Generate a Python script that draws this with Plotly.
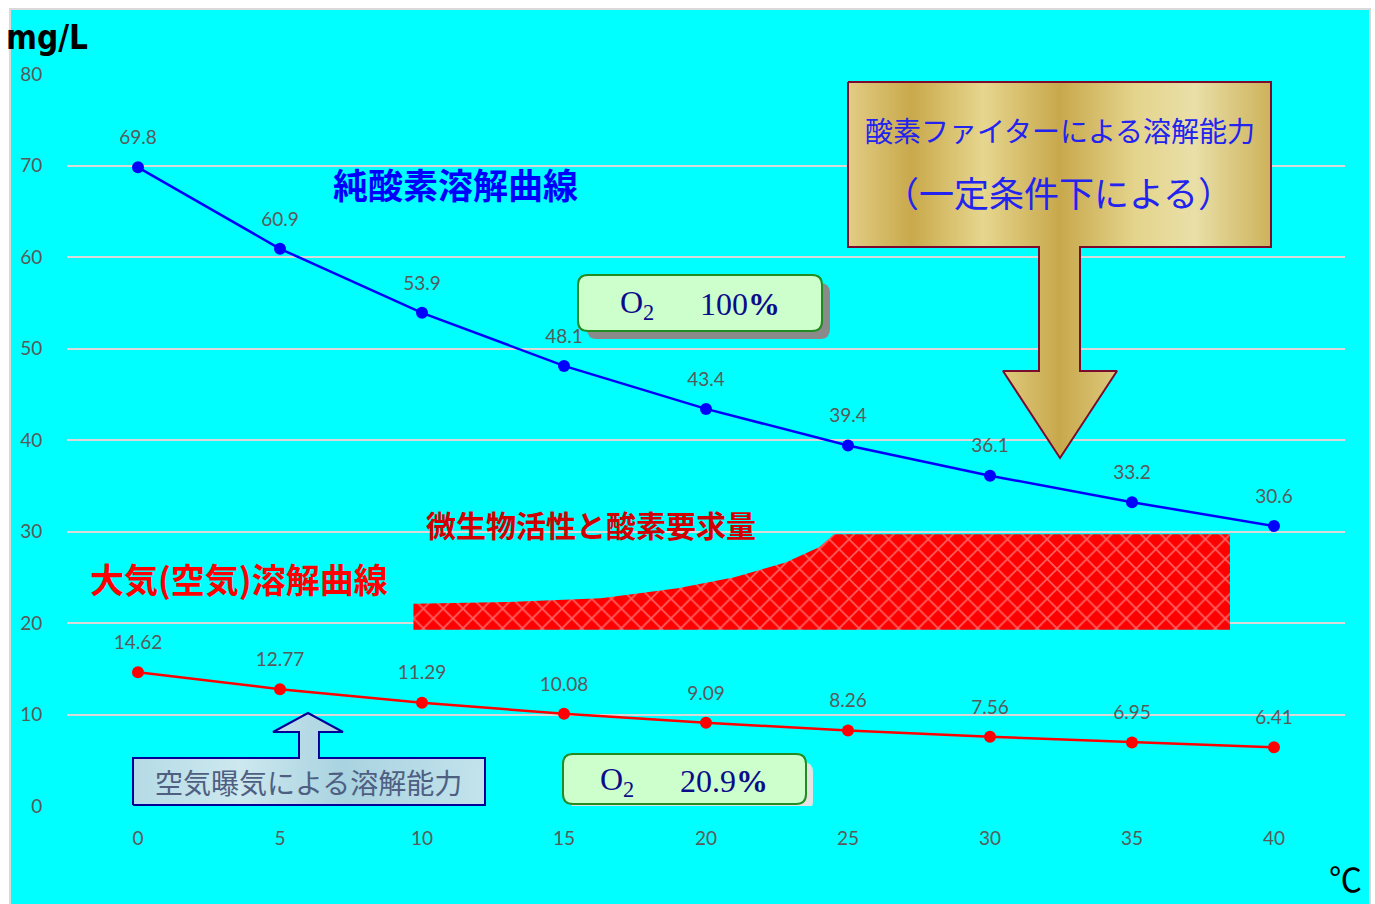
import plotly.graph_objects as go

# ---- data ----
temps = [0, 5, 10, 15, 20, 25, 30, 35, 40]
pure_o2 = [69.8, 60.9, 53.9, 48.1, 43.4, 39.4, 36.1, 33.2, 30.6]
air = [14.62, 12.77, 11.29, 10.08, 9.09, 8.26, 7.56, 6.95, 6.41]
pure_labels = ["69.8", "60.9", "53.9", "48.1", "43.4", "39.4", "36.1", "33.2", "30.6"]
air_labels = ["14.62", "12.77", "11.29", "10.08", "9.09", "8.26", "7.56", "6.95", "6.41"]
x_ticks = [0, 5, 10, 15, 20, 25, 30, 35, 40]
y_ticks = [0, 10, 20, 30, 40, 50, 60, 70, 80]

# microbial activity band (decorative, estimated)
band_x_top = [9.7, 13.0, 16.3, 19.0, 21.0, 22.8, 24.0, 24.5, 38.45]
band_y_top = [22.1, 22.3, 22.7, 23.8, 25.0, 26.6, 28.3, 29.7, 29.7]
band_y_bottom = 19.25

# ---- pixel helpers (decoration placement) ----
def X(px):
    return (px - 138) / 28.4

def Y(py):
    return (806 - py) / 9.15

def PX(px):
    return (px - 67) / 1278

def PY(py):
    return (806 - py) / 732

GREY = "#595959"
fig = go.Figure()

# hatched band
bx = band_x_top + [band_x_top[-1], band_x_top[0], band_x_top[0]]
by = band_y_top + [band_y_bottom, band_y_bottom, band_y_top[0]]
fig.add_trace(go.Scatter(
    x=bx, y=by, mode="lines", fill="toself", line=dict(width=0, color="red"),
    fillpattern=dict(shape="x", bgcolor="#ff0000", fgcolor="#ffc4c4", size=14, solidity=0.22),
    hoverinfo="skip", showlegend=False))

# gold box + arrow
gold_px = [(848, 82), (1271, 82), (1271, 247), (1080, 247), (1080, 371), (1117, 371),
           (1060, 458), (1003, 371), (1039, 371), (1039, 247), (848, 247), (848, 82)]
fig.add_trace(go.Scatter(
    x=[X(p[0]) for p in gold_px], y=[Y(p[1]) for p in gold_px], mode="lines",
    fill="toself", line=dict(color="#7a0c2e", width=2),
    fillgradient=dict(type="horizontal", start=X(848), stop=X(1271),
                      colorscale=[[0, "#e2cd85"], [0.15, "#c9a94b"], [0.32, "#e6d68e"],
                                  [0.5, "#c8a84c"], [0.68, "#e4d48c"], [0.82, "#e9dfa8"],
                                  [1, "#cdb25a"]]),
    hoverinfo="skip", showlegend=False))

# light blue box + up arrow
blue_px = [(133, 805), (485, 805), (485, 758), (319, 758), (319, 732), (343, 732),
           (308, 713), (273, 732), (299, 732), (299, 758), (133, 758), (133, 805)]
fig.add_trace(go.Scatter(
    x=[X(p[0]) for p in blue_px], y=[Y(p[1]) for p in blue_px], mode="lines",
    fill="toself", line=dict(color="#000099", width=2),
    fillgradient=dict(type="horizontal", start=X(133), stop=X(485),
                      colorscale=[[0, "#b5dbe6"], [0.3, "#cde8ef"], [0.6, "#a9d3e0"],
                                  [1, "#c3e3ec"]]),
    hoverinfo="skip", showlegend=False))

# data lines
fig.add_trace(go.Scatter(x=temps, y=pure_o2, mode="lines+markers",
                         line=dict(color="#0000ff", width=2.5),
                         marker=dict(size=12, color="#0000ff"), showlegend=False))
fig.add_trace(go.Scatter(x=temps, y=air, mode="lines+markers",
                         line=dict(color="#ff0000", width=2.5),
                         marker=dict(size=12, color="#ff0000"), showlegend=False))
# value labels
for vals, labs in ((pure_o2, pure_labels), (air, air_labels)):
    fig.add_trace(go.Scatter(x=temps, y=vals, mode="text+markers", text=labs,
                             textposition="top center",
                             marker=dict(size=28, color="rgba(0,0,0,0)"),
                             textfont=dict(family="Lato, Open Sans, sans-serif", size=19, color=GREY),
                             hoverinfo="skip", showlegend=False))

shapes = []
# outer cyan background with grey border
shapes.append(dict(type="rect", xref="paper", yref="paper", x0=PX(10), x1=PX(1370),
                   y0=PY(905), y1=PY(9), fillcolor="#00ffff",
                   line=dict(color="#d9d9d9", width=2), layer="below"))

def rounded(x0, y0, x1, y1, r):
    # pixel coords -> data path with rounded corners
    rx, ry = r / 28.4, r / 9.15
    a, b, c, d = X(x0), Y(y1), X(x1), Y(y0)  # a left, b bottom, c right, d top
    return (f"M{a+rx},{d} L{c-rx},{d} Q{c},{d} {c},{d-ry} L{c},{b+ry} Q{c},{b} {c-rx},{b} "
            f"L{a+rx},{b} Q{a},{b} {a},{b+ry} L{a},{d-ry} Q{a},{d} {a+rx},{d} Z")

# green boxes with shadows
shapes.append(dict(type="path", xref="x", yref="y", path=rounded(587, 283, 830, 339, 10),
                   fillcolor="#8a8a8a", line=dict(width=0), layer="above"))
shapes.append(dict(type="path", xref="x", yref="y", path=rounded(578, 275, 822, 331, 10),
                   fillcolor="#ccffcc", line=dict(color="#228b22", width=2), layer="above"))
shapes.append(dict(type="path", xref="x", yref="y", path=rounded(571, 762, 813, 811, 10),
                   fillcolor="#e3e3e3", line=dict(width=0), layer="above"))
shapes.append(dict(type="path", xref="x", yref="y", path=rounded(563, 754, 806, 804, 10),
                   fillcolor="#ccffcc", line=dict(color="#228b22", width=2), layer="above"))

ann = []
def add_text(txt, px, py, size, color, family, bold=False, xanchor="center"):
    ann.append(dict(text=txt, x=PX(px), y=PY(py), xref="paper", yref="paper", showarrow=False,
                    xanchor=xanchor, yanchor="middle",
                    font=dict(size=size, color=color, family=family,
                              weight="bold" if bold else "normal")))

CJK = "Noto Sans CJK JP, sans-serif"
SERIF = "Liberation Serif, DejaVu Serif, serif"
add_text("純酸素溶解曲線", 455, 183, 35, "#0000ff", CJK, True)
add_text("大気(空気)溶解曲線", 239, 578, 34, "#ff0000", CJK, True)
add_text("酸素ファイターによる溶解能力", 1060, 130, 28, "#2323f0", CJK)
add_text("（一定条件下による）", 1058, 192, 35, "#2323f0", CJK)
add_text("空気曝気による溶解能力", 308, 782, 28, "#4f5f82", CJK)
add_text("微生物活性と酸素要求量", 591, 524, 30, "#d00000", CJK, True)
add_text("O<sub>2</sub>", 637, 304, 32, "#0c0c8a", SERIF)
add_text("100<b>%</b>", 740, 304, 32, "#0c0c8a", SERIF)
add_text("O<sub>2</sub>", 617, 781, 32, "#0c0c8a", SERIF)
add_text("20.9<b>%</b>", 724, 781, 32, "#0c0c8a", SERIF)
add_text("mg/L", 4, 38, 33, "#000000", "DejaVu Sans Condensed, Liberation Sans Narrow, sans-serif", True, "left")
add_text("℃", 1345, 878, 33, "#000000", CJK)

fig.update_layout(
    width=1375, height=904,
    margin=dict(l=67, r=30, t=74, b=98),
    paper_bgcolor="white", plot_bgcolor="#00ffff",
    shapes=shapes, annotations=ann, showlegend=False,
    xaxis=dict(range=[-2.5, 42.5], tickvals=x_ticks, showgrid=False, zeroline=False,
               showline=False, ticks="outside", ticklen=15, tickcolor="rgba(0,0,0,0)",
               tickfont=dict(family="Lato, Open Sans, sans-serif", size=19, color=GREY),
               fixedrange=True),
    yaxis=dict(range=[0, 80], tickvals=y_ticks, showgrid=True, gridcolor="#d9d9d9",
               gridwidth=2, zeroline=False, showline=False, ticks="outside", ticklen=20,
               tickcolor="rgba(0,0,0,0)",
               tickfont=dict(family="Lato, Open Sans, sans-serif", size=19, color=GREY),
               fixedrange=True),
)
fig.write_html("out.html")
